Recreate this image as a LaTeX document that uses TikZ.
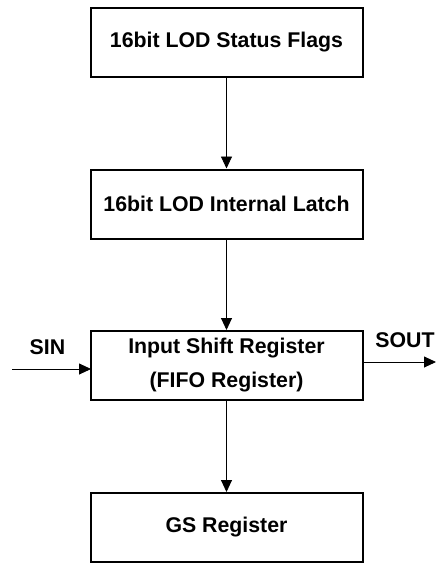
\documentclass[tikz,border=0pt]{standalone}
\usepackage{fontspec}
\setmainfont{Liberation Sans}
\usetikzlibrary{arrows.meta}
\begin{document}
\begin{tikzpicture}[x=1pt,y=-1pt,
  blk/.style={draw,line width=2pt,minimum width=272pt,minimum height=69pt,inner sep=0pt,font=\fontsize{21.3}{34}\selectfont\bfseries,align=center},
  lbl/.style={font=\fontsize{21.3}{24}\selectfont\bfseries,inner sep=0pt},
  conn/.style={line width=0.9pt,-{Triangle[length=12pt,width=11pt]}}]
\useasboundingbox (0,0) rectangle (436,563);
\node[blk] (flags) at (226.5,42) {\raisebox{3pt}{16bit LOD Status Flags}};
\node[blk] (latch) at (226.5,204) {\raisebox{-2pt}{16bit LOD Internal Latch}};
\node[blk] (shift) at (226.5,365.5) {\raisebox{-7pt}{\shortstack{Input Shift Register\\[11pt](FIFO Register)}}};
\node[blk] (gs) at (226.5,527.5) {GS Register};
\coordinate (sinstart) at (12,369);
\coordinate (sinend) at (91,369);
\coordinate (soutstart) at (362,362);
\coordinate (soutend) at (436,362);
\node[lbl] (sin) at (47.5,347) {SIN};
\node[lbl] (sout) at (405,340) {SOUT};
\draw[conn] (flags.south) -- (latch.north);
\draw[conn] (latch.south) -- (shift.north);
\draw[conn] (shift.south) -- (gs.north);
\draw[conn] (sinstart) -- (sinend);
\draw[conn] (soutstart) -- (soutend);
\end{tikzpicture}
\end{document}
